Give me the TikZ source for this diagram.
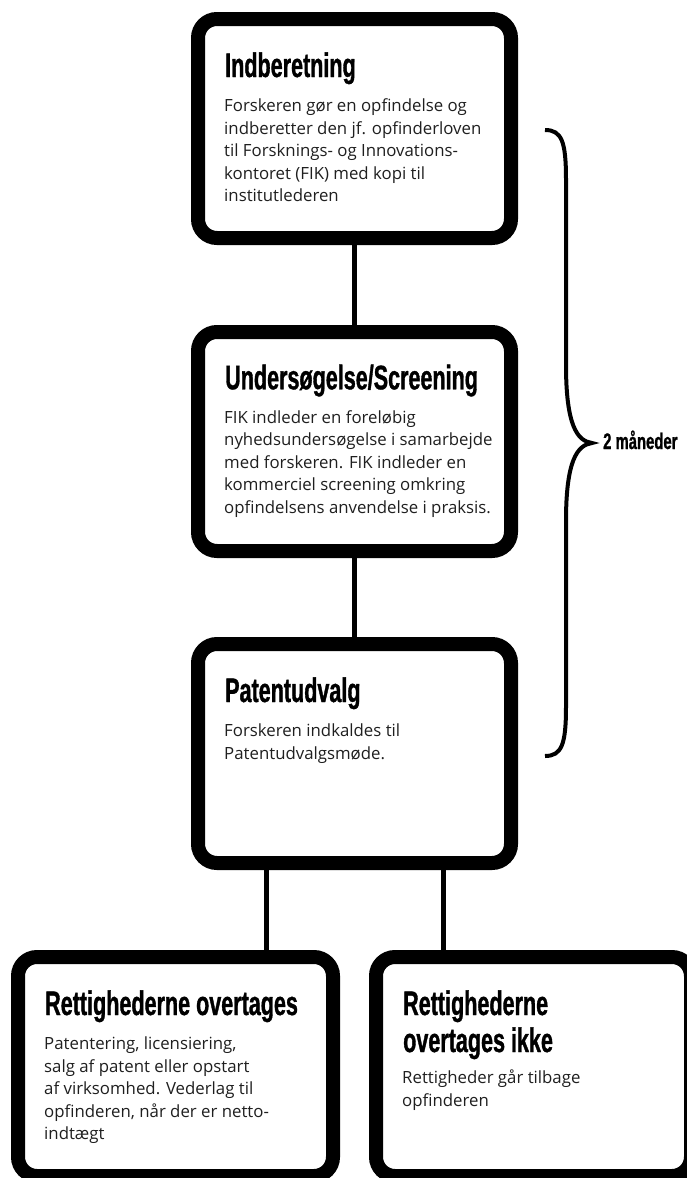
\documentclass[tikz,border=0pt]{standalone}
\usepackage{fontspec}
\setmainfont{Open Sans}
\newfontfamily\titlefont[FakeStretch=0.634,FakeBold=1]{Liberation Sans}
\newfontfamily\labelfont[FakeStretch=0.66,FakeBold=1]{Liberation Sans}
\begin{document}
\begin{tikzpicture}[x=1pt,y=-1pt,
  box/.style={draw=black, line width=14pt, rounded corners=19pt, fill=white, inner sep=0pt},
  bigbox/.style={box, minimum width=313pt, minimum height=219pt},
  lowbox/.style={box, minimum width=315pt, minimum height=219pt},
  conn/.style={line width=5pt},
  ttl/.style={anchor=base west, inner sep=0pt, align=left, font=\titlefont\bfseries\fontsize{34}{37}\selectfont},
  bdy/.style={anchor=base west, inner sep=0pt, align=left, text=black!88, font=\fontsize{16.8}{22.5}\selectfont},
  bracestyle/.style={line width=4pt}]
\useasboundingbox (0,0) rectangle (686,1178);

% boxes
\node[bigbox] (b1) at (354.5,128.5) {};
\node[bigbox] (b2) at (354.5,441.5) {};
\node[bigbox] (b3) at (354.5,753.5) {};
\node[lowbox] (b4) at (175.5,1066.5) {};
\node[lowbox] (b5) at (533.5,1066.5) {};

% connectors
\draw[conn] (b1.south) -- (b2.north);
\draw[conn] (b2.south) -- (b3.north);
\draw[conn] ([xshift=-88.5pt]b3.south) -- ([xshift=-88.5pt]b3.south |- b4.north);
\draw[conn] ([xshift=89pt]b3.south) -- ([xshift=89pt]b3.south |- b5.north);

% texts (anchor = baseline of the last line)
\node[ttl] (t1) at (225,77) {Indberetning};
\node[bdy] (d1) at (224,201.7) {Forskeren gør en opfindelse og\\indberetter den jf. opfinderloven\\til Forsknings- og Innovations-\\kontoret (FIK) med kopi til\\institutlederen};

\node[ttl] (t2) at (225,389.3) {Undersøgelse/Screening};
\node[bdy] (d2) at (224,513.3) {FIK indleder en foreløbig\\nyhedsundersøgelse i samarbejde\\med forskeren. FIK indleder en\\kommerciel screening omkring\\opfindelsens anvendelse i praksis.};

\node[ttl] (t3) at (225,702) {Patentudvalg};
\node[bdy] (d3) at (224,759) {Forskeren indkaldes til\\Patentudvalgsmøde.};

\node[ttl] (t4) at (45,1015) {Rettighederne overtages};
\node[bdy] (d4) at (44,1139.5) {Patentering, licensiering,\\salg af patent eller opstart\\af virksomhed. Vederlag til\\opfinderen, når der er netto-\\indtægt};

\node[ttl] (t5) at (403,1052) {Rettighederne\\overtages ikke};
\node[bdy] (d5) at (402,1106) {Rettigheder går tilbage\\opfinderen};

% brace
\coordinate (btop) at (545,130);
\coordinate (btip) at (592,443);
\coordinate (bbot) at (545,756);
\draw[bracestyle] (btop) .. controls (562,130) and (566,142) .. (566,180)
  -- (566,365) .. controls (566,425) and (577,441) .. (btip)
  .. controls (577,445) and (566,461) .. (566,521)
  -- (566,706) .. controls (566,744) and (562,756) .. (bbot);
\node[anchor=base west, inner sep=0pt, font=\labelfont\bfseries\fontsize{22.5}{26}\selectfont] (lbl) at (603,449) {2 måneder};
\end{tikzpicture}
\end{document}
